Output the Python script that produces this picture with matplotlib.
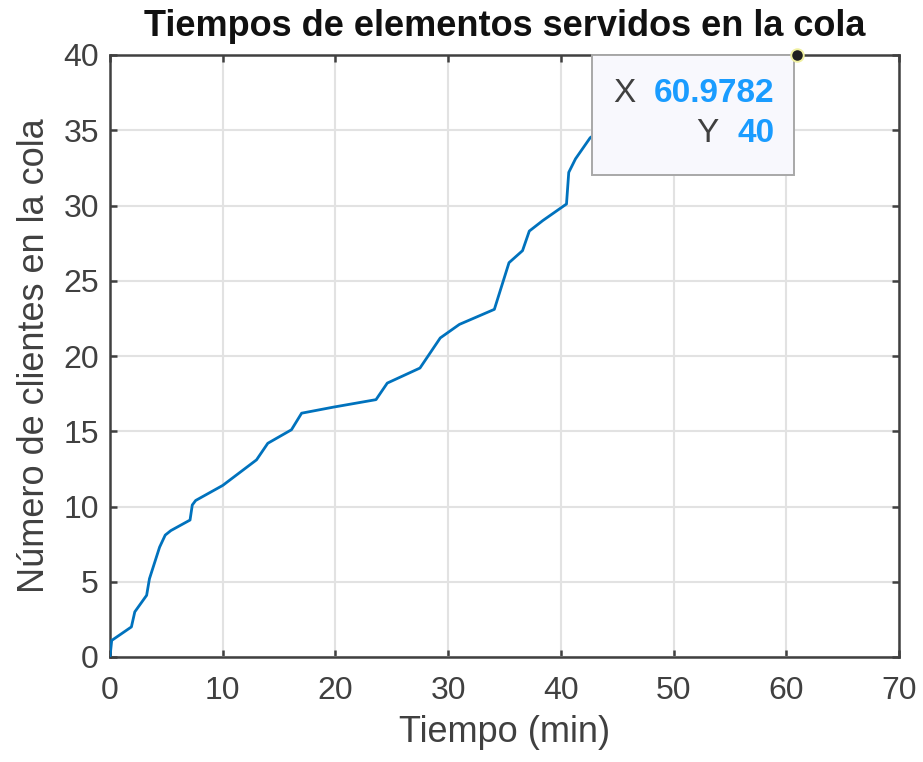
import matplotlib
matplotlib.use("Agg")
import matplotlib.pyplot as plt
import matplotlib.transforms as mtransforms
from matplotlib.patches import Rectangle

plt.rcParams['font.family'] = ['Liberation Sans', 'DejaVu Sans']

# Served-element times: time (min) vs. clients in queue
tiempo = [0, 0.15, 1.9, 2.2, 3.25, 3.5, 4.4, 4.9, 5.4, 7.1, 7.3, 7.6, 10.0,
          13.0, 14.0, 16.1, 17.0, 19.8, 23.6, 24.6, 27.5, 29.3, 31.0, 34.1,
          35.4, 36.6, 37.2, 38.4, 40.5, 40.7, 41.3, 42.6, 45.0, 49.0, 53.0,
          57.0, 60.9782]
clientes = [0, 1.1, 2.0, 3.0, 4.1, 5.2, 7.3, 8.1, 8.4, 9.1, 10.1, 10.4, 11.4,
            13.1, 14.2, 15.1, 16.2, 16.6, 17.1, 18.2, 19.2, 21.2, 22.1, 23.1,
            26.2, 27.0, 28.3, 29.0, 30.1, 32.2, 33.1, 34.5, 35.8, 36.8, 37.9,
            39.0, 40]

x_ticks = [0, 10, 20, 30, 40, 50, 60, 70]
y_ticks = [0, 5, 10, 15, 20, 25, 30, 35, 40]

tip_x = tiempo[-1]
tip_y = clientes[-1]

dark = '#404040'

fig = plt.figure(figsize=(9.23, 7.62), dpi=100)
ax = fig.add_axes([110 / 923, 1 - 657 / 762, 789 / 923, 602 / 762])

ax.plot(tiempo, clientes, color='#0072BD', lw=2.0, zorder=3,
        solid_joinstyle='round')

ax.set_xlim(0, 70)
ax.set_ylim(0, 40)
ax.set_xticks(x_ticks)
ax.set_yticks(y_ticks)
ax.grid(True, color='#e2e2e2', lw=1.5, zorder=0)
ax.set_axisbelow(True)

for s in ax.spines.values():
    s.set_color(dark)
    s.set_linewidth(1.8)
ax.tick_params(direction='in', length=5, width=1.8, color=dark,
               top=True, right=True, labelsize=23, labelcolor=dark)
ax.tick_params(axis='x', pad=14)
ax.tick_params(axis='y', pad=8)

ax.set_xlabel('Tiempo (min)', fontsize=26, color=dark, labelpad=6)
ax.set_ylabel('Número de clientes en la cola', fontsize=26, color=dark,
              labelpad=8)
ax.set_title('Tiempos de elementos servidos en la cola', fontsize=26,
             fontweight='bold', color='#111111', pad=14)

# Data tip anchored to the last point (offsets in pixels)
tip = mtransforms.Affine2D() + mtransforms.ScaledTranslation(tip_x, tip_y, ax.transData)
box = Rectangle((-205, -120), 202, 120, transform=tip, facecolor='#f8f8fd',
                edgecolor='#a8a8a8', lw=1.4, zorder=10, clip_on=False)
ax.add_patch(box)
ax.text(-173, -38, 'X', transform=tip, ha='center', va='center', fontsize=24,
        color=dark, zorder=11)
ax.text(-23, -38, f'{tip_x:g}', transform=tip, ha='right', va='center',
        fontsize=24, fontweight='bold', color='#1a9cff', zorder=11)
ax.text(-90, -78, 'Y', transform=tip, ha='center', va='center', fontsize=24,
        color=dark, zorder=11)
ax.text(-23, -78, f'{tip_y:g}', transform=tip, ha='right', va='center',
        fontsize=24, fontweight='bold', color='#1a9cff', zorder=11)
ax.plot([tip_x], [tip_y], marker='o', ms=9, color='#202020',
        markeredgecolor='#f0f0a0', markeredgewidth=1.4, clip_on=False,
        zorder=12)

fig.savefig('out.png', dpi=100)
